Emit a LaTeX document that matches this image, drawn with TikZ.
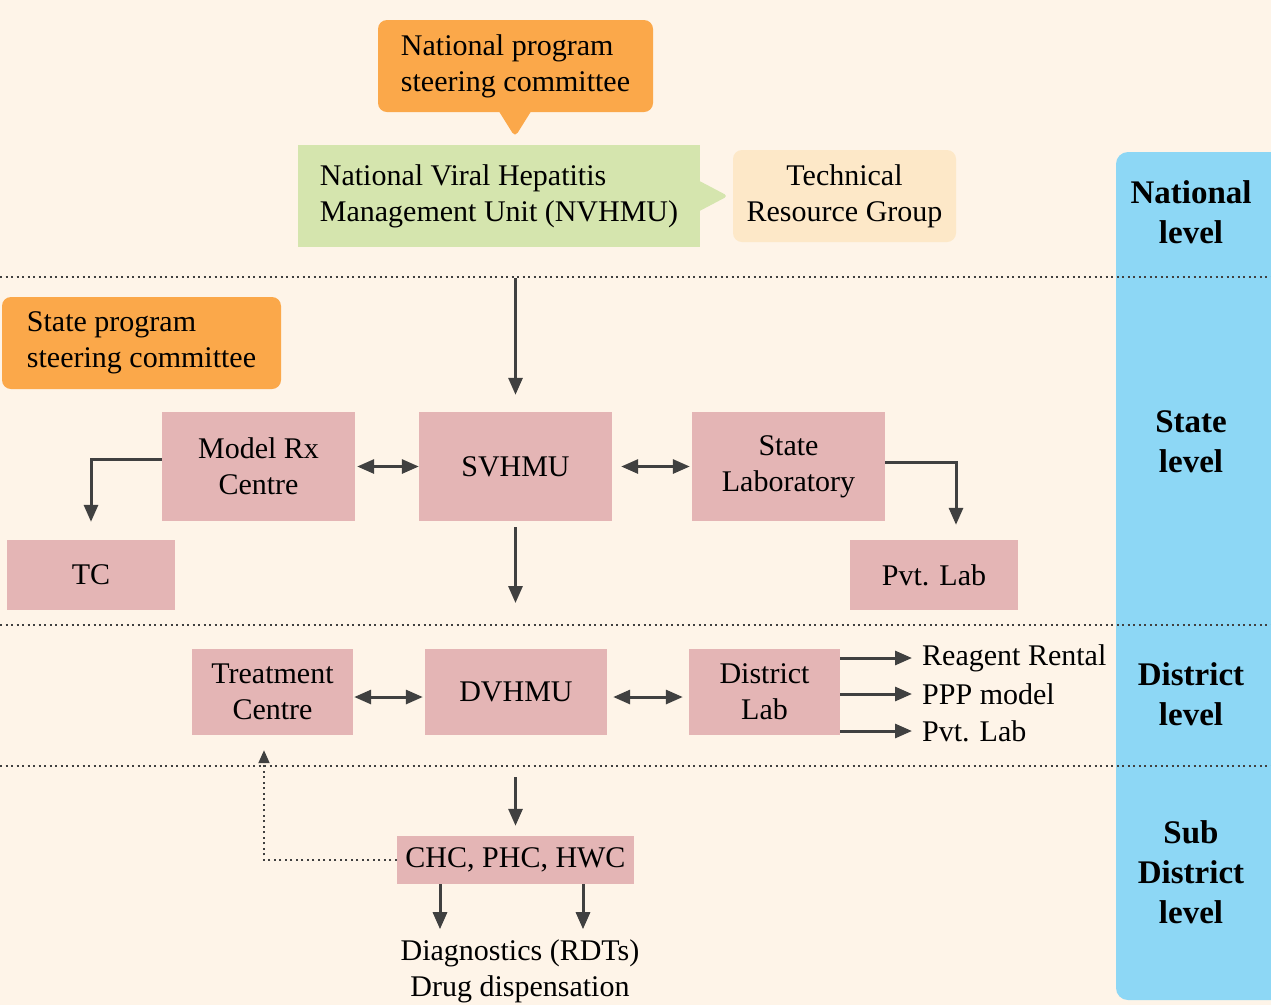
\documentclass[tikz,border=0pt]{standalone}
\usepackage{fontspec}
\setmainfont{Liberation Serif}
\usetikzlibrary{arrows.meta}
\definecolor{bg}{HTML}{FEF4E8}
\definecolor{lvl}{HTML}{8DD7F5}
\definecolor{orng}{HTML}{FBA84A}
\definecolor{grn}{HTML}{D5E5AE}
\definecolor{peach}{HTML}{FDE8C8}
\definecolor{pnk}{HTML}{E4B5B5}
\definecolor{ink}{HTML}{404040}
\tikzset{
  txt/.style={font=\fontsize{30}{36}\selectfont, align=center, inner sep=0pt},
  lvltxt/.style={font=\fontsize{33}{40}\selectfont\bfseries, align=center, inner sep=0pt},
  pbox/.style={txt, fill=pnk},
  obox/.style={txt, fill=orng, rounded corners=9pt, align=left},
  arr/.style={draw=ink, line width=3pt, -{Triangle[length=17pt,width=14pt]}},
  darr/.style={draw=ink, line width=3pt, {Triangle[length=17pt,width=14pt]}-{Triangle[length=17pt,width=14pt]}},
  dotline/.style={draw=ink, line width=2pt, dash pattern=on 2pt off 3.5pt},
}
\begin{document}
\begin{tikzpicture}[x=1pt,y=-1pt]
\useasboundingbox (0,0) rectangle (1271,1005);
\fill[bg] (0,0) rectangle (1271,1005);
% level column
\fill[lvl, rounded corners=12pt] (1116,152) rectangle (1290,1000);
\fill[bg] (1271,140) rectangle (1300,1005);
% separators
\draw[dotline] (0,277) -- (1271,277);
\draw[dotline] (0,625) -- (1271,625);
\draw[dotline] (0,766) -- (1271,766);
% level labels
\node[lvltxt] (lnat) at (1191,212) {National\\level};
\node[lvltxt] (lstate) at (1191,442) {State\\level};
\node[lvltxt] (ldist) at (1191,694) {District\\level};
\node[lvltxt] (lsub) at (1191,872) {Sub\\District\\level};
% national
\fill[orng, rounded corners=5pt] (495,105) -- (515,137) -- (535,105) -- cycle;
\node[obox, minimum width=275pt, minimum height=92pt] (npsc) at (515.5,66) {National program\\steering committee};
\fill[grn, rounded corners=4pt] (690,176) -- (728,196) -- (690,216) -- cycle;
\node[txt, fill=grn, align=left, minimum width=402pt, minimum height=102pt] (nvhmu) at (499,196) {National Viral Hepatitis\\Management Unit (NVHMU)};
\node[txt, fill=peach, rounded corners=9pt, minimum width=223pt, minimum height=92pt] (trg) at (844.5,196) {Technical\\Resource Group};
% state
\node[obox, minimum width=279pt, minimum height=92pt] (spsc) at (141.5,343) {State program\\steering committee};
\node[pbox, minimum width=193pt, minimum height=109pt] (mrx) at (258.5,466.5) {Model Rx\\Centre};
\node[pbox, minimum width=193pt, minimum height=109pt] (svhmu) at (515.5,466.5) {SVHMU};
\node[pbox, minimum width=193pt, minimum height=109pt] (slab) at (788.5,466.5) {State\\Laboratory};
\node[pbox, minimum width=168pt, minimum height=70pt] (tc) at (91,575) {TC};
\node[pbox, minimum width=168pt, minimum height=70pt] (plab) at (934,575) {Pvt. Lab};
% district
\node[pbox, minimum width=161pt, minimum height=86pt] (trc) at (272.5,692) {Treatment\\Centre};
\node[pbox, minimum width=182pt, minimum height=86pt] (dvhmu) at (516,692) {DVHMU};
\node[pbox, minimum width=151pt, minimum height=86pt] (dlab) at (764.5,692) {District\\Lab};
\node[txt, anchor=west] (rr) at (922,658) {Reagent Rental};
\node[txt, anchor=west] (ppp) at (922,694) {PPP model};
\node[txt, anchor=west] (pvl) at (922,731) {Pvt. Lab};
% sub district
\node[pbox, minimum width=237pt, minimum height=48pt] (chc) at (515.5,860) {CHC, PHC, HWC};
\node[txt] (diag) at (520,971) {Diagnostics (RDTs)\\Drug dispensation};
% connectors
\coordinate (a1) at (515.5,278);
\draw[arr, shorten >=17pt] (a1) -- (svhmu.north);
\draw[darr, shorten <=2pt] (mrx.east) -- (svhmu.west);
\draw[darr, shorten <=9pt, shorten >=2pt] (svhmu.east) -- (slab.west);
\draw[arr, shorten >=18pt] ([yshift=7.5pt]mrx.west) -| (tc.north);
\draw[arr, shorten >=15pt] ([yshift=4.5pt]slab.east) -| ([xshift=22pt]plab.north);
\coordinate (a2) at (515.5,603);
\draw[arr, shorten <=6pt] (svhmu.south) -- (a2);
\draw[darr, shorten <=1pt, shorten >=2pt] ([yshift=-5pt]trc.east) -- ([yshift=-5pt]dvhmu.west);
\draw[darr, shorten <=6pt, shorten >=6pt] ([yshift=-5pt]dvhmu.east) -- ([yshift=-5pt]dlab.west);
\draw[arr, shorten >=10pt] (dlab.east |- rr.west) -- (rr.west);
\draw[arr, shorten >=10pt] (dlab.east |- ppp.west) -- (ppp.west);
\draw[arr, shorten >=10pt] (dlab.east |- pvl.west) -- (pvl.west);
\coordinate (a3) at (515.5,777);
\draw[arr, shorten >=10pt] (a3) -- (chc.north);
\draw[dotline, -{Triangle[length=13pt,width=11pt]}, shorten >=15pt] (chc.west) -| ([xshift=-8.5pt]trc.south);
\draw[arr] ([xshift=-75.5pt]chc.south) -- ++(0,45);
\draw[arr] ([xshift=67.5pt]chc.south) -- ++(0,45);
\end{tikzpicture}
\end{document}
